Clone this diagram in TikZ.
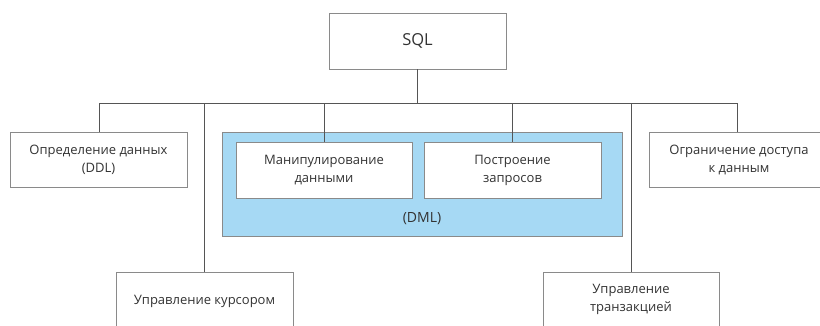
\documentclass[tikz,border=0pt]{standalone}
\usepackage{fontspec}
\setmainfont{Open Sans}
\definecolor{lineg}{HTML}{555555}
\definecolor{boxg}{HTML}{8A8A8A}
\definecolor{dmlblue}{HTML}{A6D9F4}
\definecolor{txt}{HTML}{333333}
\begin{document}
\begin{tikzpicture}[x=1pt,y=-1pt,
  box/.style={draw=boxg,line width=0.9pt,fill=white,inner sep=0pt,align=center,text=txt,font=\fontsize{13}{18}\selectfont},
  lbl/.style={text=txt,align=center,font=\fontsize{13}{18}\selectfont},
  conn/.style={draw=lineg,line width=0.8pt}]
\useasboundingbox (0,0) rectangle (820,325);
\clip (0,0) rectangle (820,325);
% boxes
\node[box,minimum width=177pt,minimum height=56pt,font=\fontsize{16.5}{20}\selectfont] (sql) at (417.5,41) {SQL};
\node[box,minimum width=177pt,minimum height=55pt] (ddl) at (98.5,159.5) {Определение данных\\(DDL)};
\node[draw=boxg,line width=0.9pt,fill=dmlblue,minimum width=400pt,minimum height=104pt,inner sep=0pt] (dml) at (422,184) {};
\node[lbl,font=\fontsize{14}{16}\selectfont] (dmltxt) at (422,219) {(DML)};
\node[box,minimum width=176pt,minimum height=56pt] (man) at (324,170) {Манипулирование\\данными};
\node[box,minimum width=177pt,minimum height=56pt] (qry) at (512.5,170) {Построение\\запросов};
\node[box,minimum width=180pt,minimum height=55pt] (acc) at (739,159.5) {Ограничение доступа\\к данным};
\node[box,minimum width=177pt,minimum height=70pt,anchor=north] (cur) at (204.5,272) {};
\node[lbl] (curtxt) at (204.5,301) {Управление курсором};
\node[box,minimum width=176pt,minimum height=70pt,anchor=north] (trn) at (631,272) {};
\node[lbl] (trntxt) at (631,299) {Управление\\транзакцией};
% connectors
\coordinate (bus) at (417.5,103);
\coordinate (busL) at (99,103);
\coordinate (busR) at (737,103);
\coordinate (accin) at (737,132);
\draw[conn] (sql.south) -- (bus);
\draw[conn] (busL) -- (busR);
\draw[conn] (busL) -- (ddl.north -| busL);
\draw[conn] (busR) -- (accin);
\draw[conn] (cur.north |- bus) -- (cur.north);
\draw[conn] (trn.north |- bus) -- (trn.north);
\draw[conn] (man.north |- bus) -- (man.north);
\draw[conn] (qry.north |- bus) -- (qry.north);
\end{tikzpicture}
\end{document}
